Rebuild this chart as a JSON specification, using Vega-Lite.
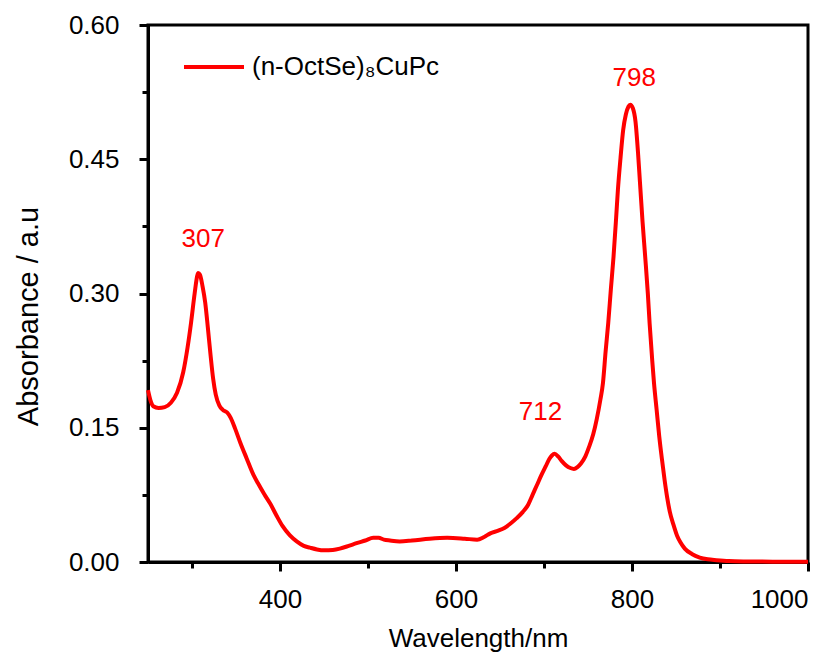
{
  "$schema": "https://vega.github.io/schema/vega-lite/v6.json",
  "autosize": {"type": "none"},
  "padding": {"left": 148, "top": 25, "right": 31, "bottom": 99},
  "width": 660,
  "height": 537,
  "background": "white",
  "config": {
    "font": "Liberation Sans",
    "view": {"stroke": "black", "strokeWidth": 3},
    "axis": {
      "domainColor": "black",
      "domainWidth": 3,
      "tickColor": "black",
      "tickWidth": 3,
      "labelColor": "black",
      "labelFontSize": 26,
      "titleFontSize": 26,
      "titleFontWeight": "normal",
      "titleColor": "black",
      "grid": false
    }
  },
  "datasets": {
    "spectrum": [
      {"nm": 250, "abs": 0.192}, {"nm": 253, "abs": 0.18}, {"nm": 256, "abs": 0.174},
      {"nm": 262, "abs": 0.172}, {"nm": 269, "abs": 0.173}, {"nm": 276, "abs": 0.178},
      {"nm": 283, "abs": 0.189}, {"nm": 290, "abs": 0.212}, {"nm": 295, "abs": 0.24},
      {"nm": 299, "abs": 0.268}, {"nm": 303, "abs": 0.3}, {"nm": 306, "abs": 0.32},
      {"nm": 307, "abs": 0.323}, {"nm": 309, "abs": 0.321}, {"nm": 312, "abs": 0.308},
      {"nm": 315, "abs": 0.29}, {"nm": 318, "abs": 0.262}, {"nm": 321, "abs": 0.232},
      {"nm": 324, "abs": 0.205}, {"nm": 327, "abs": 0.187}, {"nm": 331, "abs": 0.175},
      {"nm": 335, "abs": 0.17}, {"nm": 340, "abs": 0.167}, {"nm": 344, "abs": 0.161},
      {"nm": 349, "abs": 0.149}, {"nm": 355, "abs": 0.133}, {"nm": 362, "abs": 0.116},
      {"nm": 370, "abs": 0.097}, {"nm": 375, "abs": 0.088}, {"nm": 382, "abs": 0.076},
      {"nm": 389, "abs": 0.065}, {"nm": 396, "abs": 0.052}, {"nm": 403, "abs": 0.04},
      {"nm": 411, "abs": 0.03}, {"nm": 419, "abs": 0.023}, {"nm": 427, "abs": 0.018},
      {"nm": 434, "abs": 0.016}, {"nm": 442, "abs": 0.014}, {"nm": 450, "abs": 0.013},
      {"nm": 460, "abs": 0.0135}, {"nm": 468, "abs": 0.015}, {"nm": 478, "abs": 0.018},
      {"nm": 487, "abs": 0.021}, {"nm": 497, "abs": 0.024}, {"nm": 506, "abs": 0.027},
      {"nm": 512, "abs": 0.027}, {"nm": 518, "abs": 0.025}, {"nm": 525, "abs": 0.024},
      {"nm": 536, "abs": 0.023}, {"nm": 550, "abs": 0.024}, {"nm": 570, "abs": 0.026},
      {"nm": 590, "abs": 0.027}, {"nm": 610, "abs": 0.026}, {"nm": 624, "abs": 0.025},
      {"nm": 632, "abs": 0.028}, {"nm": 639, "abs": 0.032}, {"nm": 648, "abs": 0.035},
      {"nm": 655, "abs": 0.038}, {"nm": 662, "abs": 0.043}, {"nm": 669, "abs": 0.049},
      {"nm": 676, "abs": 0.056}, {"nm": 682, "abs": 0.064}, {"nm": 687, "abs": 0.075},
      {"nm": 692, "abs": 0.086}, {"nm": 697, "abs": 0.097}, {"nm": 702, "abs": 0.107},
      {"nm": 706, "abs": 0.115}, {"nm": 709, "abs": 0.119}, {"nm": 712, "abs": 0.121},
      {"nm": 716, "abs": 0.118}, {"nm": 720, "abs": 0.113}, {"nm": 725, "abs": 0.108},
      {"nm": 730, "abs": 0.105}, {"nm": 734, "abs": 0.104}, {"nm": 738, "abs": 0.106},
      {"nm": 742, "abs": 0.11}, {"nm": 747, "abs": 0.118}, {"nm": 751, "abs": 0.128},
      {"nm": 756, "abs": 0.143}, {"nm": 760, "abs": 0.16}, {"nm": 764, "abs": 0.181},
      {"nm": 767, "abs": 0.2}, {"nm": 770, "abs": 0.235}, {"nm": 773, "abs": 0.267},
      {"nm": 776, "abs": 0.305}, {"nm": 779, "abs": 0.341}, {"nm": 782, "abs": 0.385},
      {"nm": 784, "abs": 0.416}, {"nm": 787, "abs": 0.452}, {"nm": 790, "abs": 0.483},
      {"nm": 793, "abs": 0.5}, {"nm": 796, "abs": 0.509}, {"nm": 798, "abs": 0.511},
      {"nm": 801, "abs": 0.507}, {"nm": 804, "abs": 0.492}, {"nm": 807, "abs": 0.455},
      {"nm": 809, "abs": 0.425}, {"nm": 812, "abs": 0.38}, {"nm": 815, "abs": 0.341},
      {"nm": 818, "abs": 0.3}, {"nm": 820, "abs": 0.267}, {"nm": 823, "abs": 0.225},
      {"nm": 825, "abs": 0.2}, {"nm": 828, "abs": 0.17}, {"nm": 831, "abs": 0.14},
      {"nm": 834, "abs": 0.115}, {"nm": 837, "abs": 0.092}, {"nm": 840, "abs": 0.072},
      {"nm": 843, "abs": 0.056}, {"nm": 847, "abs": 0.042}, {"nm": 851, "abs": 0.03},
      {"nm": 855, "abs": 0.022}, {"nm": 860, "abs": 0.015}, {"nm": 868, "abs": 0.009},
      {"nm": 877, "abs": 0.005}, {"nm": 886, "abs": 0.003}, {"nm": 896, "abs": 0.002},
      {"nm": 910, "abs": 0.001}, {"nm": 930, "abs": 0.0006}, {"nm": 960, "abs": 0.0004},
      {"nm": 1000, "abs": 0.0004}
    ],
    "peaks": [
      {"nm": 307, "abs": 0.323, "label": "307"},
      {"nm": 712, "abs": 0.121, "label": "712"},
      {"nm": 798, "abs": 0.511, "label": "798"}
    ]
  },
  "layer": [
    {
      "data": {"name": "spectrum"},
      "transform": [{"calculate": "'(n-OctSe)₈CuPc'", "as": "sample"}],
      "mark": {"type": "line", "strokeWidth": 4, "interpolate": "monotone"},
      "encoding": {
        "x": {
          "field": "nm", "type": "quantitative",
          "scale": {"domain": [250, 1000], "nice": false, "zero": false},
          "axis": {
            "title": "Wavelength/nm",
            "values": [300, 400, 500, 600, 700, 800, 900, 1000],
            "labelExpr": "datum.value % 200 == 0 ? datum.label : ''",
            "tickSize": {"condition": {"test": "datum.value % 200 == 0", "value": 9}, "value": 6},
            "labelPadding": 15,
            "titlePadding": 13,
            "format": "d"
          }
        },
        "y": {
          "field": "abs", "type": "quantitative",
          "scale": {"domain": [0, 0.6], "nice": false},
          "axis": {
            "title": "Absorbance / a.u",
            "values": [0, 0.075, 0.15, 0.225, 0.3, 0.375, 0.45, 0.525, 0.6],
            "format": ".2f",
            "labelExpr": "abs(round(datum.value / 0.15) * 0.15 - datum.value) < 1e-6 ? datum.label : ''",
            "tickSize": {"condition": {"test": "abs(round(datum.value / 0.15) * 0.15 - datum.value) < 1e-6", "value": 9}, "value": 6},
            "labelPadding": 20,
            "titleFontSize": 29,
            "titleX": -111,
            "titleY": 291,
            "titleAngle": -90,
            "titleAlign": "center",
            "titleBaseline": "alphabetic"
          }
        },
        "color": {
          "field": "sample", "type": "nominal",
          "scale": {"range": ["#ff0000"]},
          "legend": {
            "title": null,
            "orient": "none",
            "legendX": 34,
            "legendY": 10,
            "symbolType": "stroke",
            "symbolSize": 3600,
            "symbolStrokeWidth": 4,
            "labelFontSize": 26,
            "labelColor": "black",
            "labelOffset": 6,
            "labelLimit": 0,
            "padding": 0
          }
        }
      }
    },
    {
      "data": {"name": "peaks"},
      "transform": [{"filter": "datum.label == '307'"}],
      "mark": {"type": "text", "color": "#ff0000", "fontSize": 26, "align": "center", "baseline": "middle", "dx": 5, "dy": -34},
      "encoding": {
        "x": {"field": "nm", "type": "quantitative"},
        "y": {"field": "abs", "type": "quantitative"},
        "text": {"field": "label"}
      }
    },
    {
      "data": {"name": "peaks"},
      "transform": [{"filter": "datum.label == '712'"}],
      "mark": {"type": "text", "color": "#ff0000", "fontSize": 26, "align": "center", "baseline": "middle", "dx": -14, "dy": -42},
      "encoding": {
        "x": {"field": "nm", "type": "quantitative"},
        "y": {"field": "abs", "type": "quantitative"},
        "text": {"field": "label"}
      }
    },
    {
      "data": {"name": "peaks"},
      "transform": [{"filter": "datum.label == '798'"}],
      "mark": {"type": "text", "color": "#ff0000", "fontSize": 26, "align": "center", "baseline": "middle", "dx": 4, "dy": -27},
      "encoding": {
        "x": {"field": "nm", "type": "quantitative"},
        "y": {"field": "abs", "type": "quantitative"},
        "text": {"field": "label"}
      }
    }
  ]
}
